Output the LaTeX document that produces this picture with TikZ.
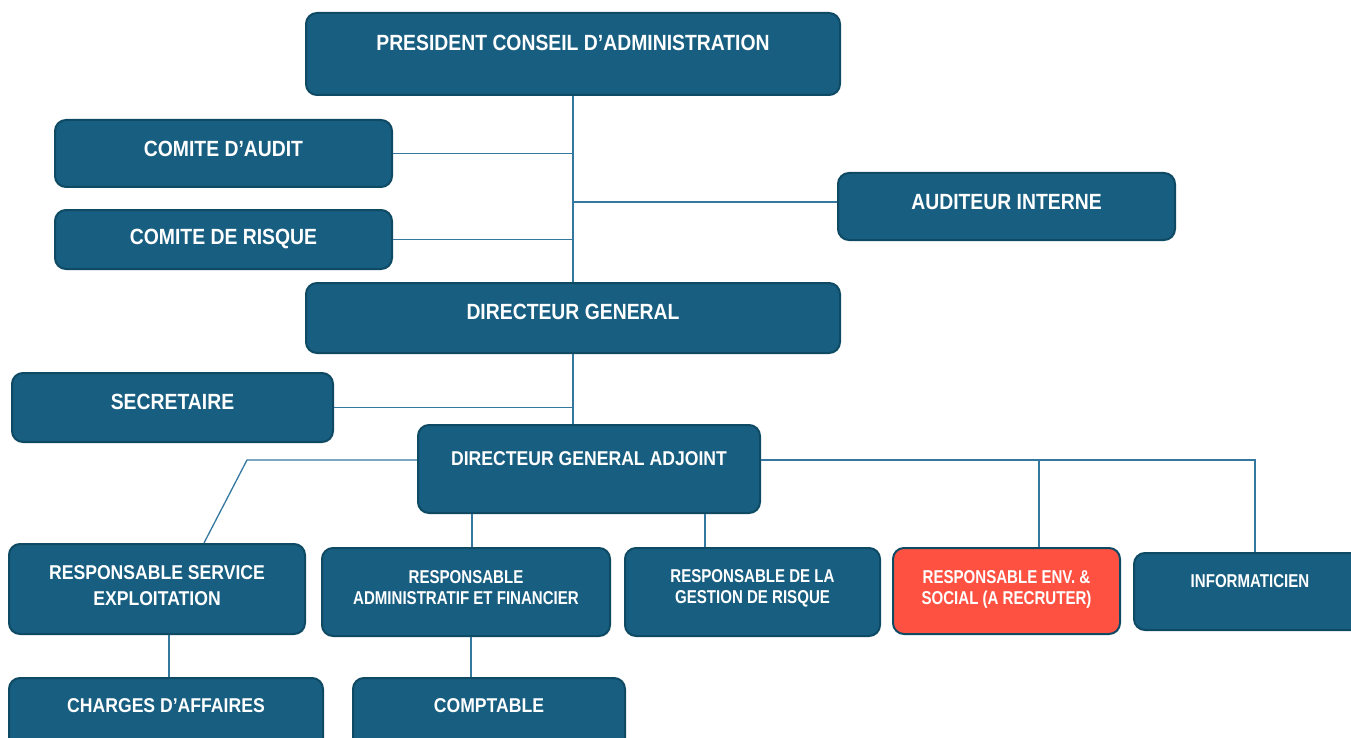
\documentclass[tikz,border=0pt]{standalone}
\usepackage{fontspec}
\setmainfont[FakeStretch=0.88]{Liberation Sans}
\newfontfamily\narrowfont[FakeStretch=0.81]{Liberation Sans}
\definecolor{boxfill}{HTML}{175E80}
\definecolor{boxline}{HTML}{0F4A64}
\definecolor{redfill}{HTML}{FF5141}
\definecolor{conncol}{HTML}{3478A0}
\newcommand\fszA{\fontsize{22}{26}\selectfont}
\newcommand\fszB{\fontsize{20}{26}\selectfont}
\newcommand\fszC{\narrowfont\fontsize{18.6}{21}\selectfont}
\tikzset{
  orgbox/.style={draw=boxline, line width=2pt, fill=boxfill, rounded corners=11pt, inner sep=0pt},
  redbox/.style={orgbox, fill=redfill},
  txt/.style={text=white, font=\bfseries, align=center, inner sep=0pt, anchor=center},
  conn/.style={draw=conncol, line width=1.3pt}
}
\begin{document}
\begin{tikzpicture}[x=1pt,y=-1pt]
\clip (0,0) rectangle (1351,738);
\fill[white] (0,0) rectangle (1351,738);
% boxes
\node[orgbox, minimum width=534pt, minimum height=82pt] (pres) at (573,54) {};
\node[txt, font=\bfseries\fszA] (pres-t) at (573,43) {PRESIDENT CONSEIL D’ADMINISTRATION};
\node[orgbox, minimum width=337pt, minimum height=67pt] (audit) at (223.5,153.5) {};
\node[txt, font=\bfseries\fszA] (audit-t) at (223.5,149) {COMITE D’AUDIT};
\node[orgbox, minimum width=337pt, minimum height=59pt] (risque) at (223.5,239.5) {};
\node[txt, font=\bfseries\fszA] (risque-t) at (223.5,239) {COMITE DE RISQUE};
\node[orgbox, minimum width=337pt, minimum height=67pt] (auditeur) at (1006.5,206.5) {};
\node[txt, font=\bfseries\fszA] (auditeur-t) at (1006.5,202) {AUDITEUR INTERNE};
\node[orgbox, minimum width=534pt, minimum height=70pt] (dg) at (573,318) {};
\node[txt, font=\bfseries\fszA] (dg-t) at (573,312) {DIRECTEUR GENERAL};
\node[orgbox, minimum width=321pt, minimum height=69pt] (sec) at (172.5,407.5) {};
\node[txt, font=\bfseries\fszA] (sec-t) at (172.5,402) {SECRETAIRE};
\node[orgbox, minimum width=342pt, minimum height=88pt] (dga) at (589,469) {};
\node[txt, font=\bfseries\fszB] (dga-t) at (589,459) {DIRECTEUR GENERAL ADJOINT};
\node[orgbox, minimum width=296pt, minimum height=90pt] (rse) at (157,589) {};
\node[txt, font=\bfseries\fszB] (rse-t) at (157,586) {RESPONSABLE SERVICE\\EXPLOITATION};
\node[orgbox, minimum width=288pt, minimum height=88pt] (radmin) at (466,592) {};
\node[txt, font=\bfseries\fszC] (radmin-t) at (466,588) {RESPONSABLE\\ADMINISTRATIF ET FINANCIER};
\node[orgbox, minimum width=255pt, minimum height=88pt] (gest) at (752.5,592) {};
\node[txt, font=\bfseries\fszC] (gest-t) at (752.5,588) {RESPONSABLE DE LA\\GESTION DE RISQUE};
\node[redbox, minimum width=227pt, minimum height=86pt] (env) at (1006.5,591) {};
\node[txt, font=\bfseries\fszC] (env-t) at (1006.5,589) {RESPONSABLE ENV. \&\\SOCIAL (A RECRUTER)};
\node[orgbox, minimum width=232pt, minimum height=77pt] (info) at (1250,591.5) {};
\node[txt, font=\bfseries\fszC] (info-t) at (1250,581) {INFORMATICIEN};
\node[orgbox, minimum width=314pt, minimum height=88pt] (charges) at (166,722) {};
\node[txt, font=\bfseries\fszB] (charges-t) at (166,706) {CHARGES D’AFFAIRES};
\node[orgbox, minimum width=272pt, minimum height=88pt] (comptable) at (489,722) {};
\node[txt, font=\bfseries\fszB] (comptable-t) at (489,706) {COMPTABLE};
% connectors
\draw[conn] (pres.south) -- (dg.north);
\draw[conn] (audit.east) -- (audit.east -| pres.south);
\draw[conn] (risque.east) -- (risque.east -| pres.south);
\coordinate (audW) at ([yshift=4.5pt]auditeur.west);
\draw[conn] (audW -| pres.south) -- (audW);
\draw[conn] (dg.south) -- (dg.south |- dga.north);
\draw[conn] (sec.east) -- (sec.east -| dg.south);
\coordinate (dgaL) at ([yshift=9pt]dga.west);
\coordinate (dgaR) at ([yshift=9pt]dga.east);
\draw[conn] (dgaL) -- ++(-170,0) -- ([xshift=47pt]rse.north);
\draw[conn] (dgaR) -| ([xshift=5pt]info.north);
\coordinate (envT) at ([xshift=32.5pt]env.north);
\draw[conn] (envT) -- (envT |- dgaR);
\coordinate (radT) at ([xshift=6pt]radmin.north);
\draw[conn] (radT) -- (radT |- dga.south);
\coordinate (gesT) at ([xshift=-47.5pt]gest.north);
\draw[conn] (gesT) -- (gesT |- dga.south);
\coordinate (rseB) at ([xshift=12pt]rse.south);
\draw[conn] (rseB) -- (rseB |- charges.north);
\coordinate (radB) at ([xshift=5pt]radmin.south);
\draw[conn] (radB) -- (radB |- comptable.north);
\end{tikzpicture}
\end{document}
